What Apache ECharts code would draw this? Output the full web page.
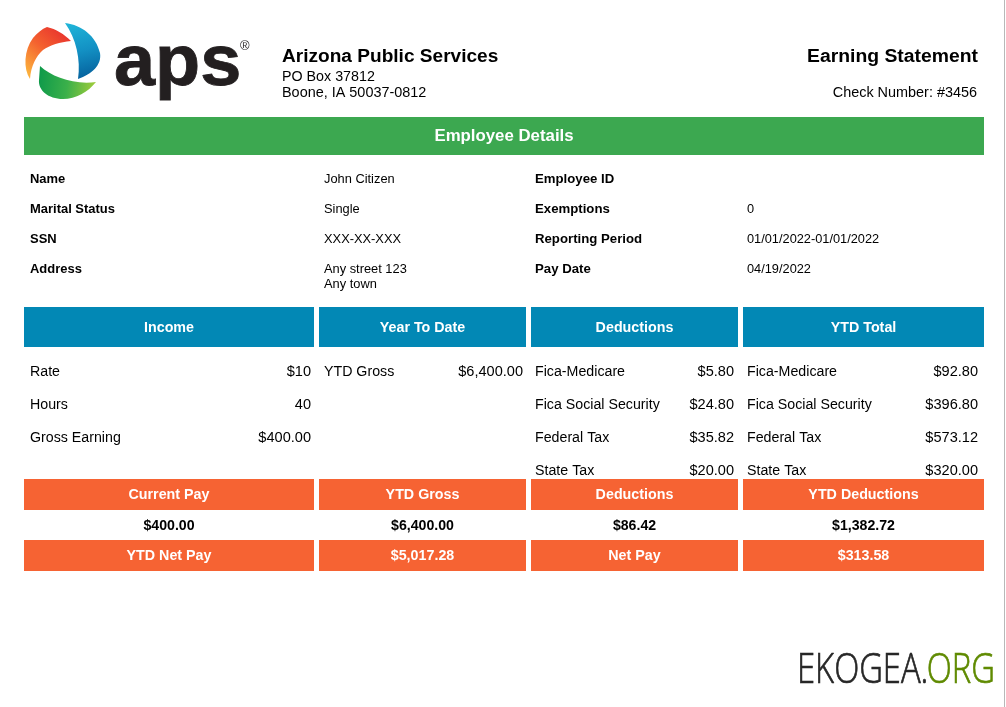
<!DOCTYPE html>
<html><head><meta charset="utf-8">
<style>html,body{margin:0;padding:0;background:#fff;overflow:hidden}#c{width:1006px;height:707px}</style>
<script src="https://cdn.jsdelivr.net/npm/echarts@6/dist/echarts.min.js"></script></head>
<body><div id="c"></div>
<script>
const companyName = 'Arizona Public Services';
const companyAddress = ['PO Box 37812', 'Boone, IA 50037-0812'];
const docTitle = 'Earning Statement';
const checkNumber = 'Check Number: #3456';
const sectionTitle = 'Employee Details';
const detailLabelsLeft = ['Name', 'Marital Status', 'SSN', 'Address'];
const detailValuesLeft = ['John Citizen', 'Single', 'XXX-XX-XXX', 'Any street 123\nAny town'];
const detailLabelsRight = ['Employee ID', 'Exemptions', 'Reporting Period', 'Pay Date'];
const detailValuesRight = ['', '0', '01/01/2022-01/01/2022', '04/19/2022'];
const columnHeads = ['Income', 'Year To Date', 'Deductions', 'YTD Total'];
const incomeLabels = ['Rate', 'Hours', 'Gross Earning'];
const incomeValues = ['$10', '40', '$400.00'];
const ytdLabels = ['YTD Gross'];
const ytdValues = ['$6,400.00'];
const deductionLabels = ['Fica-Medicare', 'Fica Social Security', 'Federal Tax', 'State Tax'];
const deductionValues = ['$5.80', '$24.80', '$35.82', '$20.00'];
const ytdTotalValues = ['$92.80', '$396.80', '$573.12', '$320.00'];
const summaryHeads = ['Current Pay', 'YTD Gross', 'Deductions', 'YTD Deductions'];
const summaryValues = ['$400.00', '$6,400.00', '$86.42', '$1,382.72'];
const footerCells = ['YTD Net Pay', '$5,017.28', 'Net Pay', '$313.58'];

const FONT = '"Liberation Sans", Arial, sans-serif';
const cols = [[24,314],[319,526],[531,738],[743,984]];
const els = [];
function rect(x0,y0,x1,y1,fill){els.push({type:'rect',silent:true,shape:{x:x0,y:y0,width:x1-x0,height:y1-y0},style:{fill}});}
function text(x,y,t,o={}){
  els.push({type:'text',silent:true,x,y,scaleX:o.sx||1,style:{text:t,fill:o.fill||'#000',
    font:(o.weight||'normal')+' '+(o.size||14)+'px '+FONT,
    textAlign:o.align||'left',textVerticalAlign:'middle'}});
}
// logo
let swirlId=0;
function swirl(d,stops,c){
  const name='swirl'+(swirlId++);
  echarts.graphic.registerShape(name,echarts.graphic.extendPath(d,{}));
  els.push({type:name,silent:true,shape:{},style:{fill:new echarts.graphic.LinearGradient(c[0],c[1],c[2],c[3],stops)}});
}
swirl('M47 27 C56 29 64 34 71 41 C60 42 50 45 43 50 C36 56 31 66 30 79 C23 69 24 50 33 38 C37 33 42 29 47 27 Z',
  [{offset:0,color:'#e8322e'},{offset:.5,color:'#f4622f'},{offset:1,color:'#fbae3c'}],[.9,.1,.1,.9]);
swirl('M65 23 C82 25 96 36 100 53 C102 65 92 74 78 79 C81 60 76 38 65 23 Z',
  [{offset:0,color:'#1fb4d8'},{offset:.5,color:'#1391c4'},{offset:1,color:'#05609c'}],[.2,0,.6,1]);
swirl('M40 66 C52 77 74 85 96 82 C88 92 76 99 63 99 C48 99 38 90 39 80 Z',
  [{offset:0,color:'#0f9a4a'},{offset:.5,color:'#3bb04a'},{offset:1,color:'#a2cd3a'}],[0,.4,1,.6]);
els.push({type:'text',silent:true,x:114,y:65,scaleX:.84,scaleY:.83,style:{text:'aps',fill:'#231f20',stroke:'#231f20',lineWidth:1,font:'bold 88px '+FONT,textAlign:'left',textVerticalAlign:'middle'}});
text(240,46,'®',{size:13,fill:'#231f20'});
// header
text(282,57,companyName,{size:18,weight:'bold',sx:1.06});
text(282,77,companyAddress[0],{size:14,sx:1.02});
text(282,93,companyAddress[1],{size:14,sx:1.03});
text(978,57,docTitle,{size:18,weight:'bold',align:'right',sx:1.075});
text(977,93,checkNumber,{size:14,align:'right',sx:1.03});
// section
rect(24,117,984,155,'#3ca850');
text(504,137,sectionTitle,{size:16,weight:'bold',fill:'#fff',align:'center',sx:1.05});
const detailY=[180,210,240,270];
detailLabelsLeft.forEach((t,i)=>text(30,detailY[i],t,{size:12,weight:'bold',sx:1.08}));
detailValuesLeft.forEach((t,i)=>t.split('\n').forEach((s,j)=>text(324,detailY[i]+j*15,s,{size:12,sx:1.07})));
detailLabelsRight.forEach((t,i)=>text(535,detailY[i],t,{size:12,weight:'bold',sx:1.1}));
detailValuesRight.forEach((t,i)=>text(747,detailY[i],t,{size:12,sx:1.065}));
// column heads
columnHeads.forEach((t,i)=>{rect(cols[i][0],307,cols[i][1],347,'#0288b5');text((cols[i][0]+cols[i][1])/2,328,t,{size:14,weight:'bold',fill:'#fff',align:'center',sx:1.02});});
const rowY=[372,405,438,471];
function pairs(labels,values,lx,rx){labels.forEach((t,i)=>text(lx,rowY[i],t,{sx:1.015}));values.forEach((t,i)=>text(rx,rowY[i],t,{align:'right',sx:1.04}));}
pairs(incomeLabels,incomeValues,30,311);
pairs(ytdLabels,ytdValues,324,523);
pairs(deductionLabels,deductionValues,535,734);
pairs(deductionLabels,ytdTotalValues,747,978);
// summary
cols.forEach((c,i)=>{
  const m=(c[0]+c[1])/2;
  rect(c[0],479,c[1],510,'#f66333');text(m,495,summaryHeads[i],{size:14,weight:'bold',fill:'#fff',align:'center',sx:1.02});
  text(m,526,summaryValues[i],{size:14,weight:'bold',align:'center',sx:1.01});
  rect(c[0],540,c[1],571,'#f66333');text(m,556,footerCells[i],{size:14,weight:'bold',fill:'#fff',align:'center',sx:1.02});
});
// watermark
els.push({type:'text',silent:true,x:797,y:671,scaleX:.78,style:{text:'EKOGEA.',fill:'#262626',stroke:'#262626',lineWidth:.7,font:'300 42px "Open Sans", sans-serif',textVerticalAlign:'middle'}});
els.push({type:'text',silent:true,x:995,y:671,scaleX:.78,style:{text:'ORG',fill:'#5f8a00',stroke:'#5f8a00',lineWidth:.7,font:'300 42px "Open Sans", sans-serif',textAlign:'right',textVerticalAlign:'middle'}});
rect(1004,0,1005,707,'#b8b8b8');
const chart=echarts.init(document.getElementById('c'),null,{renderer:'canvas'});
chart.setOption({animation:false,backgroundColor:'#fff',graphic:{elements:els}});
</script></body></html>
